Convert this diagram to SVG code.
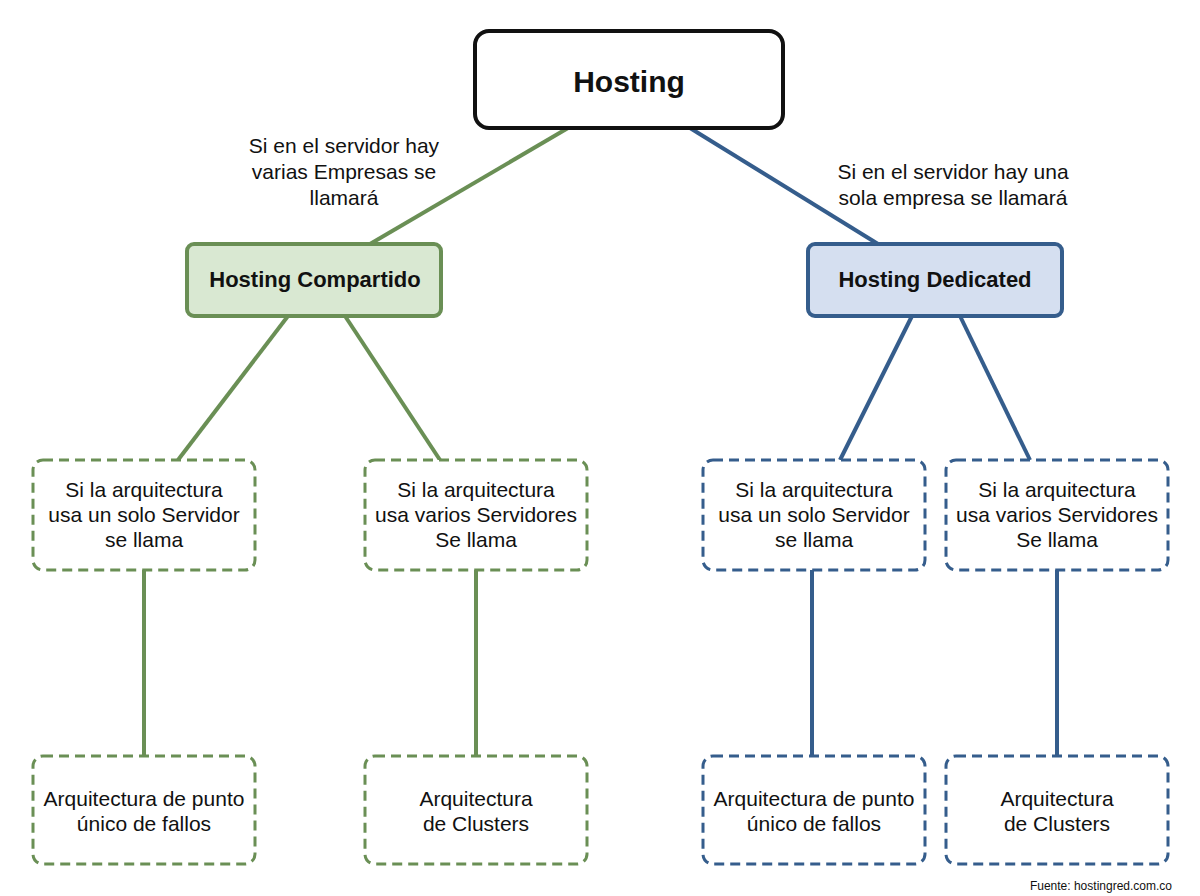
<svg xmlns="http://www.w3.org/2000/svg" width="1200" height="896" viewBox="0 0 1200 896">
<style>
text{font-family:"Liberation Sans",Arial,sans-serif;fill:#111;text-anchor:middle}
.t{font-size:21px}
.b{font-weight:bold}
.g{stroke:#6a8f55}
.bl{stroke:#355d8c}
.dg{fill:#fff;stroke:#6a8f55;stroke-width:3;stroke-dasharray:10 6}
.db{fill:#fff;stroke:#355d8c;stroke-width:3;stroke-dasharray:10 6}
.l{stroke-width:4;fill:none}
</style>
<rect width="1200" height="896" fill="#fff"/>
<g id="connectors">
<line class="l g" x1="568" y1="128" x2="370" y2="244"/>
<line class="l bl" x1="690" y1="128" x2="878" y2="244"/>
<line class="l g" x1="288" y1="316" x2="178" y2="460"/>
<line class="l g" x1="345" y1="316" x2="440" y2="460"/>
<line class="l bl" x1="912" y1="316" x2="840" y2="460"/>
<line class="l bl" x1="960" y1="316" x2="1030" y2="460"/>
<line class="l g" x1="144" y1="570" x2="144" y2="756"/>
<line class="l g" x1="476" y1="570" x2="476" y2="756"/>
<line class="l bl" x1="812" y1="570" x2="812" y2="756"/>
<line class="l bl" x1="1057" y1="570" x2="1057" y2="756"/>
</g>
<g id="hosting"><rect x="475" y="31" width="308" height="97" rx="14" fill="#fff" stroke="#111" stroke-width="4"/><text x="629" y="92" class="b" font-size="30">Hosting</text></g>
<g id="label-left"><text class="t" x="344" y="153">Si en el servidor hay</text><text class="t" x="344" y="179">varias Empresas se</text><text class="t" x="344" y="205">llamará</text></g>
<g id="label-right"><text class="t" x="953" y="179">Si en el servidor hay una</text><text class="t" x="953" y="205">sola empresa se llamará</text></g>
<g id="compartido"><rect x="187" y="244" width="254" height="72" rx="7" fill="#d9e8d2" stroke="#6a8f55" stroke-width="4"/><text x="315" y="287" class="b" font-size="22">Hosting Compartido</text></g>
<g id="dedicated"><rect x="808" y="244" width="254" height="72" rx="7" fill="#d5dff0" stroke="#355d8c" stroke-width="4"/><text x="935" y="287" class="b" font-size="22">Hosting Dedicated</text></g>
<g id="g1"><rect class="dg" x="33" y="460" width="222" height="110" rx="10"/><text class="t" x="144" y="497">Si la arquitectura</text><text class="t" x="144" y="522">usa un solo Servidor</text><text class="t" x="144" y="547">se llama</text></g>
<g id="g2"><rect class="dg" x="365" y="460" width="222" height="110" rx="10"/><text class="t" x="476" y="497">Si la arquitectura</text><text class="t" x="476" y="522">usa varios Servidores</text><text class="t" x="476" y="547">Se llama</text></g>
<g id="b1"><rect class="db" x="703" y="460" width="222" height="110" rx="10"/><text class="t" x="814" y="497">Si la arquitectura</text><text class="t" x="814" y="522">usa un solo Servidor</text><text class="t" x="814" y="547">se llama</text></g>
<g id="b2"><rect class="db" x="946" y="460" width="222" height="110" rx="10"/><text class="t" x="1057" y="497">Si la arquitectura</text><text class="t" x="1057" y="522">usa varios Servidores</text><text class="t" x="1057" y="547">Se llama</text></g>
<g id="g3"><rect class="dg" x="33" y="756" width="222" height="108" rx="10"/><text class="t" x="144" y="806">Arquitectura de punto</text><text class="t" x="144" y="831">único de fallos</text></g>
<g id="g4"><rect class="dg" x="365" y="756" width="222" height="108" rx="10"/><text class="t" x="476" y="806">Arquitectura</text><text class="t" x="476" y="831">de Clusters</text></g>
<g id="b3"><rect class="db" x="703" y="756" width="222" height="108" rx="10"/><text class="t" x="814" y="806">Arquitectura de punto</text><text class="t" x="814" y="831">único de fallos</text></g>
<g id="b4"><rect class="db" x="946" y="756" width="222" height="108" rx="10"/><text class="t" x="1057" y="806">Arquitectura</text><text class="t" x="1057" y="831">de Clusters</text></g>
<text x="1172" y="890" font-size="12" style="text-anchor:end">Fuente: hostingred.com.co</text>
</svg>
